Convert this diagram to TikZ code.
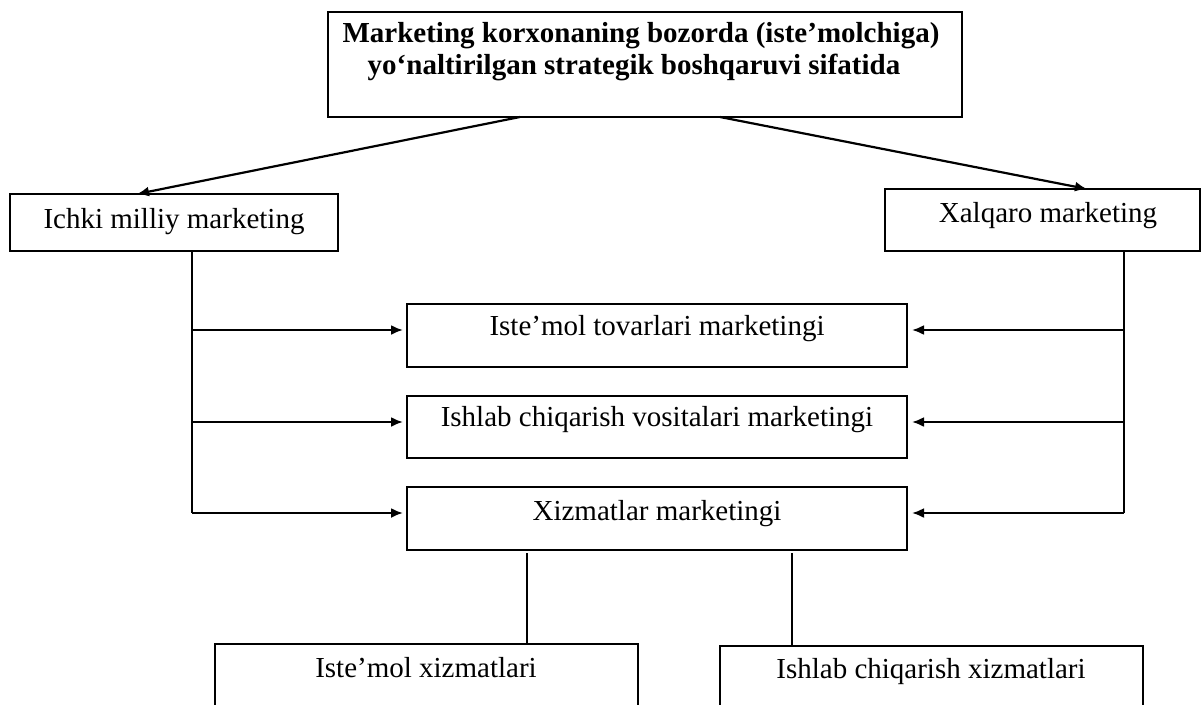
\documentclass[tikz,border=0pt]{standalone}
\usepackage{fontspec}
\setmainfont{Liberation Serif}
\usetikzlibrary{arrows.meta,calc}
\begin{document}
\begin{tikzpicture}[x=1pt,y=-1pt,
  box/.style={draw=black, line width=2.7pt, rectangle, inner sep=0pt, outer sep=0pt},
  lbl/.style={anchor=base, inner sep=0pt, font=\fontsize{29}{33}\selectfont},
  ttl/.style={anchor=base, inner sep=0pt, font=\bfseries\fontsize{29}{33}\selectfont},
  conn/.style={line width=2.2pt},
  arr/.style={conn, -{Latex[length=12pt,width=10pt]}}]
\useasboundingbox (0,0) rectangle (1201,704);
\clip (0,0) rectangle (1201,704);

% boxes
\node[box, minimum width=634pt, minimum height=105pt] (top) at (645,64.5) {};
\node[box, minimum width=328pt, minimum height=57pt] (ichki) at (174,222.5) {};
\node[box, minimum width=315pt, minimum height=62pt] (xalq) at (1042.5,220) {};
\node[box, minimum width=500pt, minimum height=63pt] (m1) at (657,335.5) {};
\node[box, minimum width=500pt, minimum height=62pt] (m2) at (657,427) {};
\node[box, minimum width=500pt, minimum height=63pt] (m3) at (657,518.5) {};
\node[box, minimum width=423pt, minimum height=96pt] (b1) at (426.5,692) {};
\node[box, minimum width=423pt, minimum height=94pt] (b2) at (931.5,693) {};

% texts
\node[ttl] (title1) at (641,42) {Marketing korxonaning bozorda (iste’molchiga)};
\node[ttl] (title2) at (634,74) {yo‘naltirilgan strategik boshqaruvi sifatida};
\node[lbl] (ichkit) at (174,228) {Ichki milliy marketing};
\node[lbl] (xalqt) at (1048,222) {Xalqaro marketing};
\node[lbl] (m1t) at (657,335) {Iste’mol tovarlari marketingi};
\node[lbl] (m2t) at (657,426) {Ishlab chiqarish vositalari marketingi};
\node[lbl] (m3t) at (657,520) {Xizmatlar marketingi};
\node[lbl] (b1t) at (426,677) {Iste’mol xizmatlari};
\node[lbl] (b2t) at (931,678) {Ishlab chiqarish xizmatlari};

% top arrows
\draw[arr] ($(top.south)+(-125,0)$) -- ($(ichki.north)+(-37,0)$);
\draw[arr] ($(top.south)+(75,0)$) -- ($(xalq.north)+(44.5,0)$);

% left trunk
\coordinate (L1) at (192,330);
\coordinate (L2) at (192,422);
\coordinate (L3) at (192,513);
\draw[conn] (ichki.south -| L1) -- (L3);
\draw[arr, shorten >=4pt] (L1) -- (L1 -| m1.west);
\draw[arr, shorten >=4pt] (L2) -- (L2 -| m2.west);
\draw[arr, shorten >=4pt] (L3) -- (L3 -| m3.west);

% right trunk
\coordinate (R1) at (1124,330);
\coordinate (R2) at (1124,422);
\coordinate (R3) at (1124,513);
\draw[conn] (xalq.south -| R1) -- (R3);
\draw[arr, shorten >=5pt] (R1) -- (R1 -| m1.east);
\draw[arr, shorten >=5pt] (R2) -- (R2 -| m2.east);
\draw[arr, shorten >=5pt] (R3) -- (R3 -| m3.east);

% bottom links
\draw[conn, line width=1.8pt] ($(m3.south)+(-130,3)$) -- ($(b1.north)+(100.5,0)$);
\draw[conn, line width=1.8pt] ($(m3.south)+(135,3)$) -- ($(b2.north)+(-139.5,0)$);
\end{tikzpicture}
\end{document}
